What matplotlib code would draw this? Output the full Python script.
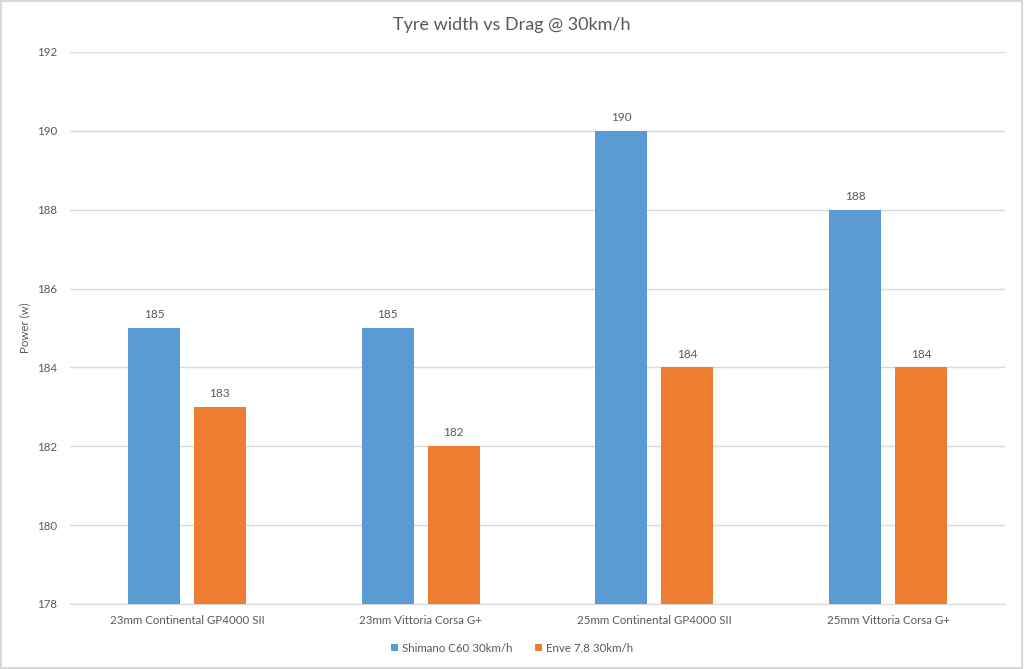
import matplotlib
matplotlib.use("Agg")
import matplotlib.pyplot as plt
import numpy as np
from matplotlib.patches import Rectangle

categories = ["23mm Continental GP4000 SII", "23mm Vittoria Corsa G+",
              "25mm Continental GP4000 SII", "25mm Vittoria Corsa G+"]
shimano = [185, 185, 190, 188]
enve = [183, 182, 184, 184]
series_names = ["Shimano C60 30km/h", "Enve 7.8 30km/h"]
yticks = [178, 180, 182, 184, 186, 188, 190, 192]

plt.rcParams['font.family'] = ['Lato', 'DejaVu Sans']
TXT = "#595959"
BLUE = "#5B9BD5"
ORANGE = "#ED7D31"

fig = plt.figure(figsize=(10.24, 6.69), dpi=100)
fig.patch.set_facecolor("white")
ax = fig.add_axes([70/1024, 1-604/669, 935/1024, 552/669])

x = np.arange(len(categories))
w = 0.222
off = 0.141
b1 = ax.bar(x - off, np.array(shimano) - 178, w, bottom=178, color=BLUE, label=series_names[0], zorder=3)
b2 = ax.bar(x + off, np.array(enve) - 178, w, bottom=178, color=ORANGE, label=series_names[1], zorder=3)

for bars, vals in ((b1, shimano), (b2, enve)):
    for r, v in zip(bars, vals):
        ax.text(r.get_x() + r.get_width()/2, v + 0.2, str(v), ha="center", va="bottom",
                fontsize=8.5, color=TXT)

ax.set_xlim(-0.5, 3.5)
ax.set_ylim(178, 192)
ax.set_yticks(yticks)
ax.set_xticks(x)
ax.set_xticklabels(categories)
ax.tick_params(axis="both", length=0, labelsize=8.3, colors=TXT)
ax.tick_params(axis="y", pad=9)
ax.tick_params(axis="x", pad=8)
ax.grid(axis="y", color="#D9D9D9", linewidth=1, zorder=0)
for s in ("top", "right", "left"):
    ax.spines[s].set_visible(False)
ax.spines["bottom"].set_color("#D9D9D9")
ax.set_ylabel("Power (w)", fontsize=8.3, color=TXT)
ax.yaxis.set_label_coords((30 - 70) / 935, 0.5)

fig.text(0.5, 1-25/669, "Tyre width vs Drag @ 30km/h", ha="center", va="center",
         fontsize=13, color=TXT)

leg = fig.legend(handles=[b1, b2], loc="center", bbox_to_anchor=(0.5, 1-648/669), ncol=2,
                 frameon=False, fontsize=8.3, handlelength=0.6, handleheight=0.6,
                 handletextpad=0.3, columnspacing=2.0)
for t in leg.get_texts():
    t.set_color(TXT)

fig.add_artist(Rectangle((0.001, 0.001), 0.997, 0.997, transform=fig.transFigure,
                         fill=False, edgecolor="#D9D9D9", linewidth=1.5))

fig.savefig("out.png", dpi=100)
